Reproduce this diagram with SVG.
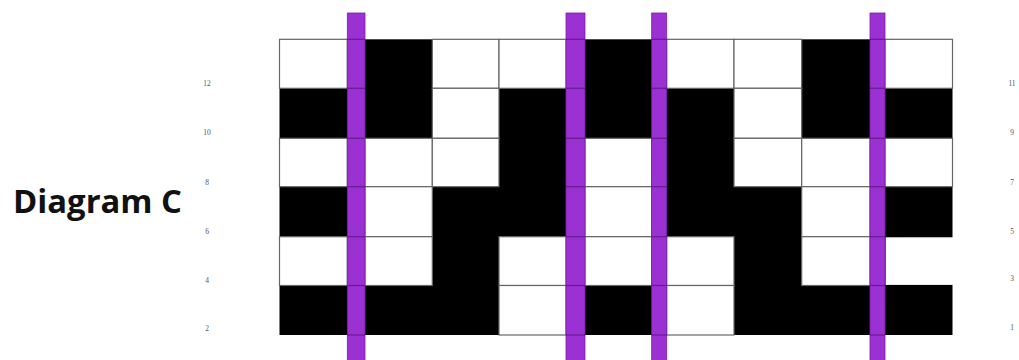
<svg xmlns="http://www.w3.org/2000/svg" width="1019" height="360" viewBox="0 0 1019 360">
<style>
.b{fill:#000}
.w{fill:#fff;stroke:#666;stroke-width:1.2}
.wn{fill:#fff}
.p{fill:#9b30d3;stroke:#7a1fb0;stroke-width:0.8}
.pl{stroke:#3a0a5a;stroke-opacity:0.55;stroke-width:1.2}
.n{font-family:"Liberation Serif",serif;font-size:7.5px;fill:#555;text-anchor:middle}
.t{font-family:"Open Sans","Liberation Sans",sans-serif;font-weight:bold;font-size:32px;fill:#111}
</style>
<rect width="1019" height="360" fill="#fff"/>
<g id="title"><text class="t" x="13" y="213" textLength="169" lengthAdjust="spacingAndGlyphs">Diagram C</text></g>
<g id="grid">
<rect id="black-ground" class="b" x="279.5" y="39.3" width="673" height="295.7"/>
<g id="whites">
<rect class="w" x="279.5" y="39.3" width="67.8" height="49"/>
<rect class="w" x="432.3" y="39.3" width="66.7" height="49"/>
<rect class="w" x="499" y="39.3" width="67" height="49"/>
<rect class="w" x="666.7" y="39.3" width="67.3" height="49"/>
<rect class="w" x="734" y="39.3" width="67.7" height="49"/>
<rect class="w" x="885" y="39.3" width="67.5" height="49"/>
<rect class="w" x="432.3" y="88.3" width="66.7" height="50"/>
<rect class="w" x="734" y="88.3" width="67.7" height="50"/>
<rect class="w" x="279.5" y="138.3" width="67.8" height="48.4"/>
<rect class="w" x="365" y="138.3" width="67.3" height="48.4"/>
<rect class="w" x="432.3" y="138.3" width="66.7" height="48.4"/>
<rect class="w" x="585" y="138.3" width="66.7" height="48.4"/>
<rect class="w" x="734" y="138.3" width="67.7" height="48.4"/>
<rect class="w" x="801.7" y="138.3" width="68.3" height="48.4"/>
<rect class="w" x="885" y="138.3" width="67.5" height="48.4"/>
<rect class="w" x="365" y="186.7" width="67.3" height="50"/>
<rect class="w" x="585" y="186.7" width="66.7" height="50"/>
<rect class="w" x="801.7" y="186.7" width="68.3" height="50"/>
<rect class="w" x="279.5" y="236.7" width="67.8" height="48.8"/>
<rect class="w" x="365" y="236.7" width="67.3" height="48.8"/>
<rect class="w" x="499" y="236.7" width="67" height="48.8"/>
<rect class="w" x="585" y="236.7" width="66.7" height="48.8"/>
<rect class="w" x="666.7" y="236.7" width="67.3" height="48.8"/>
<rect class="w" x="801.7" y="236.7" width="68.3" height="48.8"/>
<rect class="wn" x="885.6" y="237.3" width="67.5" height="47.6"/>
<rect class="w" x="499" y="285.5" width="67" height="49.5"/>
<rect class="w" x="666.7" y="285.5" width="67.3" height="49.5"/>
</g>
</g>
<g id="bars">
<rect class="p" x="347.3" y="13" width="17.7" height="350"/>
<rect class="p" x="566" y="13" width="19" height="350"/>
<rect class="p" x="651.7" y="13" width="15" height="350"/>
<rect class="p" x="870" y="13" width="15" height="350"/>
<g class="pl">
<line x1="347.3" y1="39.3" x2="365" y2="39.3"/><line x1="347.3" y1="88.3" x2="365" y2="88.3"/><line x1="347.3" y1="138.3" x2="365" y2="138.3"/><line x1="347.3" y1="186.7" x2="365" y2="186.7"/><line x1="347.3" y1="236.7" x2="365" y2="236.7"/><line x1="347.3" y1="285.5" x2="365" y2="285.5"/><line x1="347.3" y1="335" x2="365" y2="335"/>
<line x1="566" y1="39.3" x2="585" y2="39.3"/><line x1="566" y1="88.3" x2="585" y2="88.3"/><line x1="566" y1="138.3" x2="585" y2="138.3"/><line x1="566" y1="186.7" x2="585" y2="186.7"/><line x1="566" y1="236.7" x2="585" y2="236.7"/><line x1="566" y1="285.5" x2="585" y2="285.5"/><line x1="566" y1="335" x2="585" y2="335"/>
<line x1="651.7" y1="39.3" x2="666.7" y2="39.3"/><line x1="651.7" y1="88.3" x2="666.7" y2="88.3"/><line x1="651.7" y1="138.3" x2="666.7" y2="138.3"/><line x1="651.7" y1="186.7" x2="666.7" y2="186.7"/><line x1="651.7" y1="236.7" x2="666.7" y2="236.7"/><line x1="651.7" y1="285.5" x2="666.7" y2="285.5"/><line x1="651.7" y1="335" x2="666.7" y2="335"/>
<line x1="870" y1="39.3" x2="885" y2="39.3"/><line x1="870" y1="88.3" x2="885" y2="88.3"/><line x1="870" y1="138.3" x2="885" y2="138.3"/><line x1="870" y1="186.7" x2="885" y2="186.7"/><line x1="870" y1="236.7" x2="885" y2="236.7"/><line x1="870" y1="285.5" x2="885" y2="285.5"/><line x1="870" y1="335" x2="885" y2="335"/>
</g>
</g>
<g id="left-numbers">
<text class="n" x="207" y="86">12</text>
<text class="n" x="207" y="135">10</text>
<text class="n" x="207" y="184.5">8</text>
<text class="n" x="207" y="233.5">6</text>
<text class="n" x="207" y="283">4</text>
<text class="n" x="207" y="331">2</text>
</g>
<g id="right-numbers">
<text class="n" x="1012" y="86">11</text>
<text class="n" x="1012" y="134.5">9</text>
<text class="n" x="1012" y="184.5">7</text>
<text class="n" x="1012" y="234">5</text>
<text class="n" x="1012" y="281">3</text>
<text class="n" x="1012" y="329.5">1</text>
</g>
</svg>
